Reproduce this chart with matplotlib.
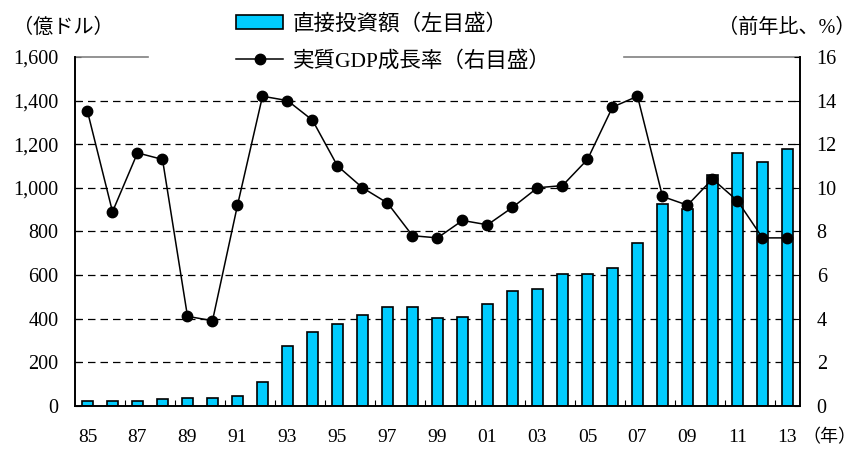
import numpy as np
import matplotlib.pyplot as plt
from matplotlib.patches import Patch
from matplotlib.lines import Line2D

plt.rcParams['font.family'] = ['Liberation Serif', 'Noto Sans CJK JP']

years = ['85', '86', '87', '88', '89', '90', '91', '92', '93', '94', '95', '96', '97', '98', '99',
         '00', '01', '02', '03', '04', '05', '06', '07', '08', '09', '10', '11', '12', '13']
# 直接投資額（億ドル）
fdi = [19.6, 22.4, 23.1, 31.9, 33.9, 34.9, 43.7, 110.1, 275.2, 337.7, 375.2, 417.3, 452.6, 454.6, 403.2,
       407.2, 468.8, 527.4, 535.1, 606.3, 603.3, 630.2, 747.7, 924.0, 900.3, 1057.4, 1160.1, 1117.2, 1175.9]
# 実質GDP成長率（%）
gdp = [13.5, 8.9, 11.6, 11.3, 4.1, 3.9, 9.2, 14.2, 14.0, 13.1, 11.0, 10.0, 9.3, 7.8, 7.7,
       8.5, 8.3, 9.1, 10.0, 10.1, 11.3, 13.7, 14.2, 9.6, 9.2, 10.4, 9.4, 7.7, 7.7]
left_ticks = [0, 200, 400, 600, 800, 1000, 1200, 1400, 1600]
right_ticks = [0, 2, 4, 6, 8, 10, 12, 14, 16]

bar_color = '#00CCFF'
fs = 14.5

fig = plt.figure(figsize=(8.57, 4.5), dpi=100)
ax = fig.add_axes([75 / 857, 1 - 405.7 / 450, 725 / 857, 348.7 / 450])
ax2 = ax.twinx()

x = np.arange(len(years))
ax.bar(x, fdi, width=0.44, color=bar_color, edgecolor='black', linewidth=1.2, zorder=2)
ax.set_xlim(-0.5, len(years) - 0.5)
ax.set_ylim(0, 1600)
ax.set_yticks(left_ticks)
ax.set_yticklabels([f'{v:,}' for v in left_ticks], fontsize=fs)
ax.set_axisbelow(True)
ax.yaxis.grid(True, color='black', linestyle=(0, (6, 4)), linewidth=0.9)
gl = ax.yaxis.get_gridlines()
gl[0].set_visible(False)
gl[-1].set_visible(False)

ax.set_xticks(x[::2])
ax.set_xticklabels(years[::2], fontsize=14)
ax.set_xticks(np.arange(1.5, len(years) - 1, 2), minor=True)
ax.tick_params(axis='x', which='major', length=0, pad=17)
ax.tick_params(axis='x', which='minor', direction='in', length=4, width=0.8)
ax.tick_params(axis='y', direction='in', length=4, width=0.8, pad=12)

ax2.plot(x, gdp, color='black', linewidth=1.1, marker='o', markersize=7.5, zorder=3)
ax2.set_ylim(0, 16)
ax2.set_yticks(right_ticks)
ax2.set_yticklabels([str(v) for v in right_ticks], fontsize=fs)
ax2.tick_params(axis='y', direction='in', length=4, width=0.8, pad=12)

for a in (ax, ax2):
    a.spines['top'].set_visible(False)
    for s in ('left', 'right', 'bottom'):
        a.spines[s].set_linewidth(1.2)

# top border drawn in two pieces, broken by the legend
ax.plot([0, 0.1], [1, 1], transform=ax.transAxes, color='#808080', linewidth=1.2, clip_on=False)
ax.plot([0.757, 1], [1, 1], transform=ax.transAxes, color='#808080', linewidth=1.2, clip_on=False)

handles = [Patch(facecolor=bar_color, edgecolor='black', linewidth=1.2),
           Line2D([0], [0], color='black', linewidth=1.1, marker='o', markersize=7.5)]
labels = ['直接投資額（左目盛）', '実質GDP成長率（右目盛）']
fig.legend(handles, labels, loc='upper left', bbox_to_anchor=(236 / 857, 1 - 14 / 450),
           frameon=False, fontsize=15.5, handlelength=2.2, handleheight=0.65,
           handletextpad=0.45, labelspacing=0.75, borderaxespad=0, borderpad=0)

fig.text(13 / 857, 1 - 28 / 450, '（億ドル）', fontsize=fs, va='center', ha='left')
fig.text(855 / 857, 1 - 28 / 450, '（前年比、%）', fontsize=fs, va='center', ha='right')
fig.text(856 / 857, 1 - 438 / 450, '（年）', fontsize=13, va='center', ha='right')

fig.savefig('out.png', dpi=100)
